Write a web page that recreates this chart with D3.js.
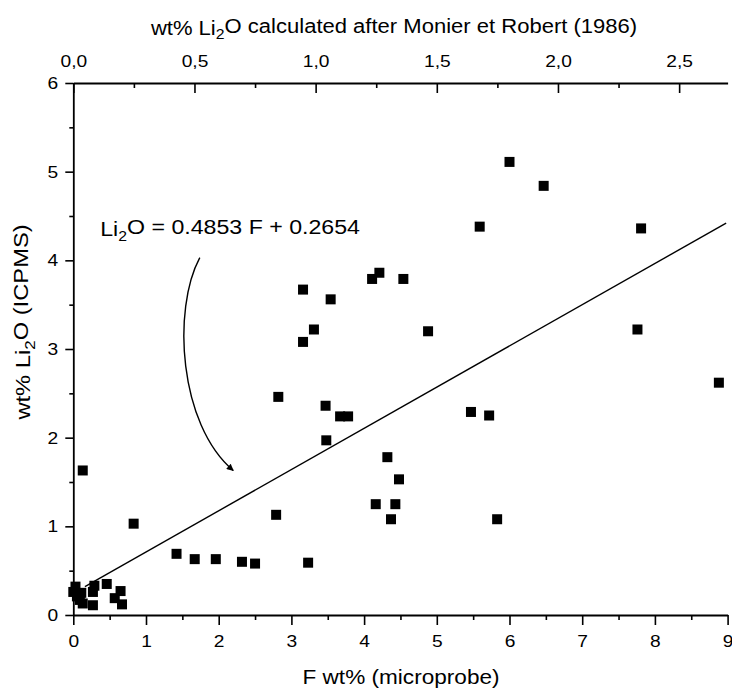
<!DOCTYPE html>
<html><head><meta charset="utf-8">
<script src="https://cdn.jsdelivr.net/npm/d3@7"></script>
<style>
body{margin:0;background:#fff}
svg{display:block}
text{font-family:"Liberation Sans",Arial,sans-serif;fill:#000}
</style>
</head><body>
<svg id="c" width="732" height="690"></svg>
<script>
// ---- data (F wt% microprobe, wt% Li2O ICPMS) ----
const fValues = [
  0.00, 0.03, 0.05, 0.11, 0.09, 0.13, 0.27, 0.29, 0.27, 0.46, 0.57, 0.65, 0.67,
  0.13, 0.83,
  1.42, 1.67, 1.96, 2.32, 2.50, 3.23,
  2.79, 2.82, 3.16, 3.16, 3.31, 3.54, 3.47, 3.48, 3.67, 3.78,
  4.11, 4.21, 4.54, 4.88, 4.32, 4.48, 4.16, 4.43, 4.37,
  5.47, 5.72, 5.83, 5.59, 6.00, 6.47, 7.81, 7.76, 8.88
];
const li2oValues = [
  0.26, 0.32, 0.21, 0.25, 0.17, 0.13, 0.26, 0.33, 0.11, 0.35, 0.19, 0.27, 0.12,
  1.63, 1.03,
  0.69, 0.63, 0.63, 0.60, 0.58, 0.59,
  1.13, 2.46, 3.67, 3.08, 3.22, 3.56, 2.36, 1.97, 2.24, 2.24,
  3.79, 3.86, 3.79, 3.20, 1.78, 1.53, 1.25, 1.25, 1.08,
  2.29, 2.25, 1.08, 4.38, 5.11, 4.84, 4.36, 3.22, 2.62
];
// regression line end points
const fitF = [0.16, 8.98];
const fitLi2O = [0.32, 4.42];
// curved arrow control points (data units)
const arrowF = [1.74, 1.36, 1.45, 2.20];
const arrowLi2O = [4.03, 3.45, 2.15, 1.63];
// equation label anchor (data units)
const eqF = 0.37, eqLi2O = 4.27;

const xTicks = [0,1,2,3,4,5,6,7,8,9];
const xMinor = [0.5,1.5,2.5,3.5,4.5,5.5,6.5,7.5,8.5];
const yTicks = [0,1,2,3,4,5,6];
const yMinor = [0.5,1.5,2.5,3.5,4.5,5.5];
const topTicks = [0,0.5,1,1.5,2,2.5];
const topTickLabels = ["0,0","0,5","1,0","1,5","2,0","2,5"];
const topMinor = [0.25,0.75,1.25,1.75,2.25,2.75];

// ---- layout ----
const SX = 1.13; // horizontal glyph stretch of the original lettering
const svg = d3.select("#c");
const x = d3.scaleLinear().domain([0,9]).range([73.3,727.6]);
const y = d3.scaleLinear().domain([0,6]).range([615,83]);
const xTop = d3.scaleLinear().domain([0,2.7]).range([73.3,727.6]);

function styleAxis(g){
  g.attr("font-family",null);
  g.select(".domain").attr("stroke","#000").attr("stroke-width",1.8);
  g.selectAll(".tick line").attr("stroke","#000").attr("stroke-width",1.6);
  g.selectAll(".tick text").style("font-size","17px").attr("fill","#000")
    .each(function(){
      const t = d3.select(this);
      const xv = +t.attr("x") || 0;
      t.attr("x", xv / SX).attr("transform", `scale(${SX},1)`);
    });
}

// bottom axis
svg.append("g").attr("transform","translate(0,615)")
  .call(d3.axisBottom(x).tickValues(xTicks).tickFormat(d3.format("d")).tickSize(10).tickSizeOuter(0).tickPadding(10))
  .call(styleAxis);
svg.append("g").attr("transform","translate(0,615)")
  .call(d3.axisBottom(x).tickValues(xMinor).tickFormat("").tickSize(5).tickSizeOuter(0))
  .call(styleAxis).call(g=>g.select(".domain").remove());

// left axis
svg.append("g").attr("transform","translate(73.3,0)")
  .call(d3.axisLeft(y).tickValues(yTicks).tickFormat(d3.format("d")).tickSize(8).tickSizeOuter(0).tickPadding(7))
  .call(styleAxis);
svg.append("g").attr("transform","translate(73.3,0)")
  .call(d3.axisLeft(y).tickValues(yMinor).tickFormat("").tickSize(4).tickSizeOuter(0))
  .call(styleAxis).call(g=>g.select(".domain").remove());

// top axis (ticks pointing inward)
svg.append("g").attr("transform","translate(0,83)")
  .call(d3.axisTop(xTop).tickValues(topTicks).tickFormat((d,i)=>topTickLabels[i]).tickSize(-10).tickSizeOuter(0).tickPadding(16))
  .call(styleAxis);
svg.append("g").attr("transform","translate(0,83)")
  .call(d3.axisTop(xTop).tickValues(topMinor).tickFormat("").tickSize(-5).tickSizeOuter(0))
  .call(styleAxis).call(g=>g.select(".domain").remove());

// regression line
svg.append("line")
  .attr("x1",x(fitF[0])).attr("y1",y(fitLi2O[0]))
  .attr("x2",x(fitF[1])).attr("y2",y(fitLi2O[1]))
  .attr("stroke","#000").attr("stroke-width",1.4);

// points
const pts = fValues.map((f,i)=>({f, v: li2oValues[i]}));
const S = 10;
svg.append("g").selectAll("rect").data(pts).join("rect")
  .attr("x",d=>x(d.f)-S/2).attr("y",d=>y(d.v)-S/2)
  .attr("width",S).attr("height",S).attr("fill","#000");

// arrow
const defs = svg.append("defs");
defs.append("marker").attr("id","ah").attr("viewBox","0 0 10 10")
  .attr("refX",9).attr("refY",5).attr("markerWidth",9).attr("markerHeight",7)
  .attr("markerUnits","userSpaceOnUse").attr("orient","auto")
  .append("path").attr("d","M0,0 L10,5 L0,10 z").attr("fill","#000");
const ap = arrowF.map((f,i)=>[x(f), y(arrowLi2O[i])]);
svg.append("path")
  .attr("d",`M${ap[0]}C${ap[1]} ${ap[2]} ${ap[3]}`)
  .attr("fill","none").attr("stroke","#000").attr("stroke-width",1.4)
  .attr("marker-end","url(#ah)");

// text helper with Li2O-style subscripts
function label(tx, ty, rot, size, anchor, parts){
  const t = svg.append("text")
    .attr("transform", `translate(${tx},${ty}) rotate(${rot}) scale(${SX},1)`)
    .attr("text-anchor", anchor).style("font-size", size + "px");
  parts.forEach(p=>{
    const s = t.append("tspan").text(p.t);
    if (p.sub) s.style("font-size", Math.round(size*0.7)+"px").attr("dy","0.3em");
    if (p.after) s.attr("dy","-0.3em");
  });
  return t;
}

// equation
label(x(eqF), y(eqLi2O), 0, 20.5, "start",
  [{t:"Li"},{t:"2",sub:true},{t:"O = 0.4853 F + 0.2654",after:true}]);

// top title
label(394, 35, 0, 19.5, "middle",
  [{t:"wt% Li"},{t:"2",sub:true},{t:"O calculated after Monier et Robert (1986)",after:true}]);

// bottom title
label(401, 684, 0, 20, "middle", [{t:"F wt% (microprobe)"}]);

// left title
label(30, 322, -90, 21, "middle",
  [{t:"wt% Li"},{t:"2",sub:true},{t:"O (ICPMS)",after:true}]);
</script>
</body></html>
